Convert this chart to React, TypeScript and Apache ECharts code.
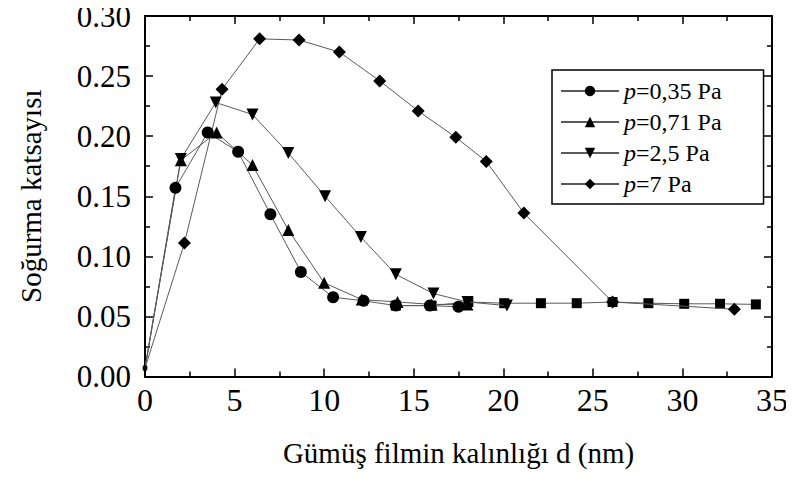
import React, { useEffect, useRef } from "react";
import * as echarts from "echarts";

// Absorption coefficient vs. silver film thickness d (nm), per sputtering pressure
const seriesNames = ["p=0,35 Pa", "p=0,71 Pa", "p=2,5 Pa", "p=7 Pa"];

const p035: [number, number][] = [
  [0, 0.007], [1.7, 0.157], [3.5, 0.203], [5.2, 0.187], [7.0, 0.135],
  [8.7, 0.087], [10.5, 0.066], [12.2, 0.063], [14.0, 0.059], [15.9, 0.059],
  [17.5, 0.058],
];

const p071: [number, number][] = [
  [0, 0.007], [2.0, 0.18], [4.0, 0.203], [6.0, 0.176], [8.0, 0.122],
  [10.0, 0.078], [12.1, 0.064], [14.1, 0.062], [16.0, 0.06], [18.0, 0.06],
];

const p25: [number, number][] = [
  [0, 0.007], [2.0, 0.181], [3.95, 0.228], [6.0, 0.218], [8.0, 0.186],
  [10.05, 0.15], [12.05, 0.116], [14.0, 0.085], [16.1, 0.069], [18.0, 0.062],
  [20.2, 0.059],
];

const p7: [number, number][] = [
  [0, 0.007], [2.2, 0.111], [4.3, 0.239], [6.4, 0.281], [8.6, 0.28],
  [10.85, 0.27], [13.1, 0.246], [15.25, 0.221], [17.35, 0.199], [19.05, 0.179],
  [21.15, 0.136], [26.1, 0.062], [32.9, 0.056],
];

// Thick-film plateau (square markers)
const plateau: [number, number][] = [
  [14.0, 0.059], [16.0, 0.059], [18.05, 0.062], [20.05, 0.061], [22.1, 0.061],
  [24.1, 0.061], [26.1, 0.062], [28.1, 0.061], [30.1, 0.0605], [32.1, 0.0605],
  [34.1, 0.06],
];

const xTicks = [0, 5, 10, 15, 20, 25, 30, 35];
const yTicks = [0, 0.05, 0.1, 0.15, 0.2, 0.25, 0.3];

const FONT = "Liberation Serif";
const LINE = "#5a5a5a";

export default function App() {
  const ref = useRef<HTMLDivElement>(null);

  useEffect(() => {
    if (!ref.current) return;
    const chart = echarts.init(ref.current, undefined, { renderer: "svg" });

    const markers = ["circle", "triangle", "path://M0,0L10,0L5,10Z", "diamond"];
    const sizes = [12, 12, 12, 13];
    const sets = [p035, p071, p25, p7];

    const mk = (name: string, data: [number, number][], symbol: string, size: number) => ({
      name,
      type: "line",
      data,
      symbol,
      symbolSize: (_v: unknown, params: { dataIndex: number }) =>
        params.dataIndex === 0 && data[0][0] === 0 ? 5 : size,
      showAllSymbol: true,
      lineStyle: { color: LINE, width: 1 },
      itemStyle: { color: "#000" },
      emphasis: { disabled: true },
      z: 3,
    });

    const axisCommon = {
      axisLine: { onZero: false, lineStyle: { color: "#000", width: 2 } },
      axisTick: { inside: true, length: 8, lineStyle: { color: "#000", width: 1.5 } },
      minorTick: { show: true, splitNumber: 2, length: 5, lineStyle: { color: "#000", width: 1.5 } },
      splitLine: { show: false },
    };

    const legendText = {
      fontFamily: "Liberation Serif, Times New Roman, serif",
      fontSize: 24,
      fontWeight: "normal",
      color: "#000",
    };

    chart.setOption({
      animation: false,
      backgroundColor: "#fff",
      textStyle: { fontFamily: FONT },
      grid: { left: 145, right: 22, top: 16, bottom: 104.5, containLabel: false },
      legend: {
        data: seriesNames,
        orient: "vertical",
        left: 552,
        top: 70,
        itemWidth: 58,
        itemHeight: 13,
        itemGap: 7,
        borderColor: "#000",
        borderWidth: 1.5,
        padding: [9, 42, 8, 8],
        textStyle: {
          ...legendText,
          rich: {
            i: { ...legendText, fontStyle: "italic" },
            n: { ...legendText },
          },
        },
        formatter: (name: string) => `{i|${name.slice(0, 1)}}{n|${name.slice(1)}}`,
        selectedMode: false,
      },
      xAxis: [
        {
          type: "value",
          min: xTicks[0],
          max: xTicks[xTicks.length - 1],
          interval: 5,
          name: "Gümüş filmin kalınlığı d (nm)",
          nameLocation: "middle",
          nameGap: 62,
          nameTextStyle: { fontFamily: FONT, fontSize: 29, color: "#000" },
          axisLabel: { fontFamily: FONT, fontSize: 32, lineHeight: 26, color: "#000", margin: 10 },
          ...axisCommon,
        },
        {
          type: "value",
          position: "top",
          min: xTicks[0],
          max: xTicks[xTicks.length - 1],
          interval: 5,
          axisLabel: { show: false },
          ...axisCommon,
        },
      ],
      yAxis: [
        {
          type: "value",
          min: yTicks[0],
          max: yTicks[yTicks.length - 1],
          interval: 0.05,
          name: "Soğurma katsayısı",
          nameLocation: "middle",
          nameGap: 100,
          nameTextStyle: { fontFamily: FONT, fontSize: 29, color: "#000" },
          axisLabel: {
            fontFamily: FONT,
            fontSize: 31,
            lineHeight: 24,
            color: "#000",
            margin: 14,
            formatter: (v: number) => v.toFixed(2),
          },
          ...axisCommon,
        },
        {
          type: "value",
          position: "right",
          min: yTicks[0],
          max: yTicks[yTicks.length - 1],
          interval: 0.05,
          axisLabel: { show: false },
          ...axisCommon,
        },
      ],
      series: [
        ...sets.map((d, i) => mk(seriesNames[i], d, markers[i], sizes[i])),
        { ...mk("plateau", plateau, "rect", 10), z: 2 },
      ],
    });

    return () => chart.dispose();
  }, []);

  return <div ref={ref} style={{ width: 794, height: 481, margin: -8 }} />;
}
